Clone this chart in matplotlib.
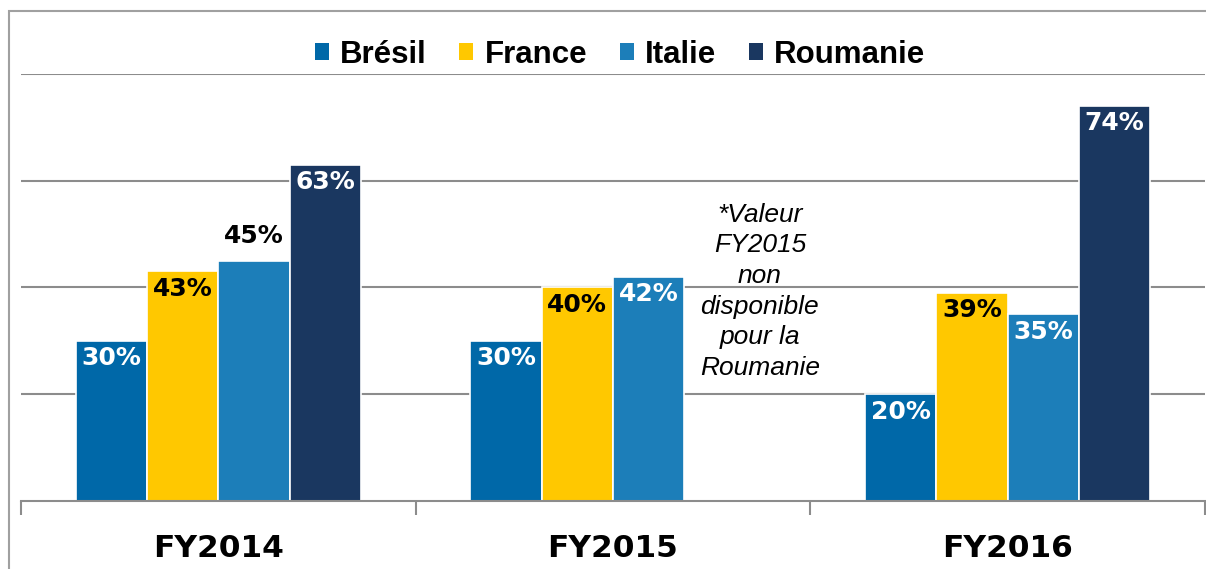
import matplotlib
matplotlib.use("Agg")
import matplotlib.pyplot as plt
import numpy as np
from matplotlib.patches import Patch, Rectangle

categories = ["FY2014", "FY2015", "FY2016"]
series = ["Brésil", "France", "Italie", "Roumanie"]
bresil = [30, 30, 20]
france = [43, 40, 39]
italie = [45, 42, 35]
roumanie = [63, np.nan, 74]
values = [bresil, france, italie, roumanie]
colors = ["#0068A8", "#FFC800", "#1C7EB9", "#1A3760"]
label_colors = ["white", "black", "white", "white"]
note = "*Valeur\nFY2015\nnon\ndisponible\npour la\nRoumanie"

fig = plt.figure(figsize=(12.06, 5.69), dpi=100)
ax = fig.add_axes([21/1206, 68/569, 1184/1206, 427/569])

x = np.arange(len(categories))
w = 0.1807
grey = "#8C8C8C"

for y in [20, 40, 60, 80]:
    ax.axhline(y, color=grey, lw=1.5, zorder=1)

for i, (s, vals, c, lc) in enumerate(zip(series, values, colors, label_colors)):
    xs = x + (i - 1.5) * w
    ax.bar(xs, vals, width=w, color=c, edgecolor="white", linewidth=1.2, zorder=2)
    for xi, v in zip(xs, vals):
        if np.isnan(v):
            continue
        if s == "Italie" and v == 45:
            ax.annotate(f"{v:.0f}%", (xi, v), xytext=(0, 18), textcoords="offset points",
                        ha="center", va="center", fontsize=18, fontweight="bold",
                        color="black", family="DejaVu Sans", zorder=3)
        else:
            ax.annotate(f"{v:.0f}%", (xi, v), xytext=(0, -12.5), textcoords="offset points",
                        ha="center", va="center", fontsize=18, fontweight="bold",
                        color=lc, family="DejaVu Sans", zorder=3)

ax.text(1.372, 39.3, note, ha="center", va="center", fontsize=19, fontstyle="italic",
        family="Liberation Sans", color="black", linespacing=1.35, zorder=3)

ax.set_xlim(-0.5, 2.5)
ax.set_ylim(0, 80)
for sp in ["left", "right", "top"]:
    ax.spines[sp].set_visible(False)
ax.spines["bottom"].set_color(grey)
ax.spines["bottom"].set_linewidth(1.5)
ax.spines["bottom"].set_zorder(4)
ax.set_yticks([])
ax.set_xticks([-0.5, 0.5, 1.5, 2.5])
ax.set_xticklabels([])
ax.tick_params(axis="x", which="major", length=10, width=1.5, color=grey, direction="out")
ax.set_xticks(x, minor=True)
ax.set_xticklabels(categories, minor=True, fontsize=22.5, fontweight="bold", family="DejaVu Sans")
ax.tick_params(axis="x", which="minor", length=0, pad=23.5)

handles = [Patch(facecolor=c, edgecolor="none") for c in colors]
fig.legend(handles, series, loc="center", bbox_to_anchor=(620/1206, 1 - 55/569), ncol=4,
           frameon=False, prop={"family": "Liberation Sans", "weight": "bold", "size": 22.5},
           handlelength=0.45, handleheight=0.45, handletextpad=0.35, columnspacing=1.05)

fig.add_artist(Rectangle((9/1206, -0.05), 1.1, 1.05 - 11/569, transform=fig.transFigure,
                         fill=False, edgecolor="#A0A0A0", linewidth=1.5, clip_on=False))

fig.savefig("out.png", dpi=100)
